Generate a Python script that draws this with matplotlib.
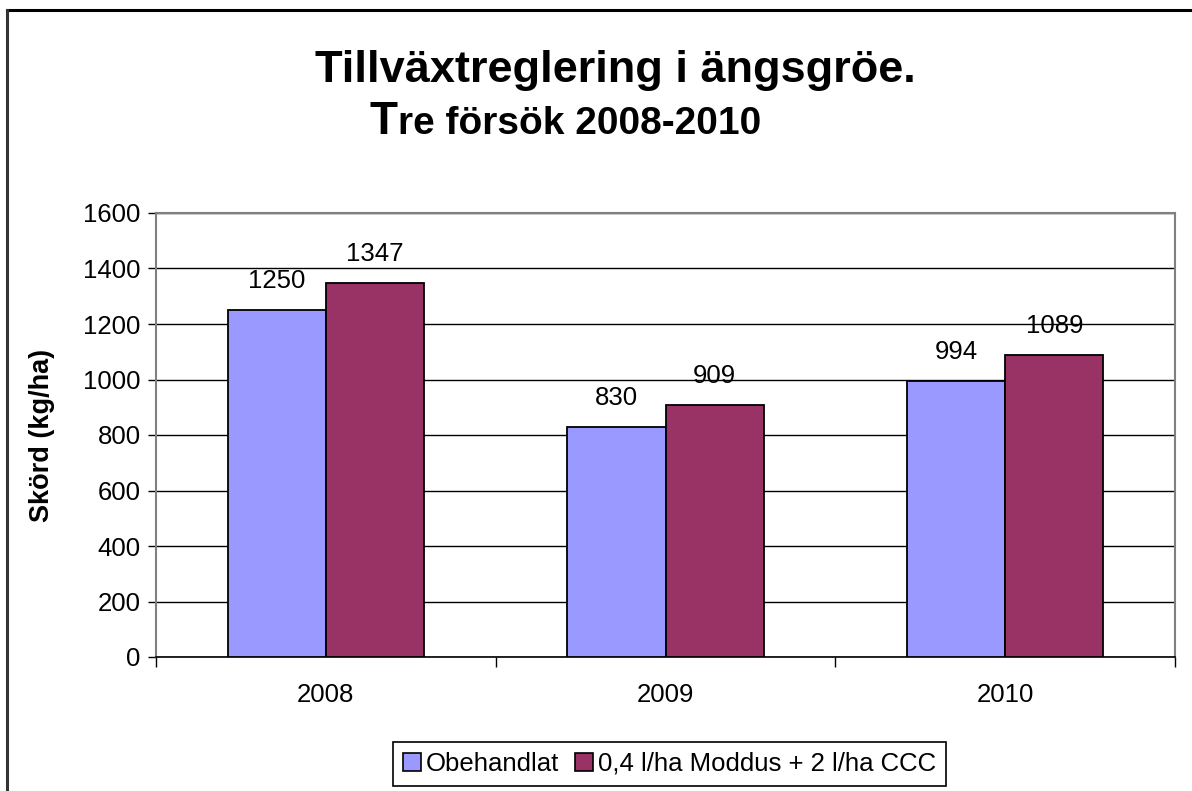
import matplotlib
matplotlib.use("Agg")
import matplotlib.pyplot as plt
import numpy as np
from matplotlib.lines import Line2D

plt.rcParams['font.family'] = ['Liberation Sans', 'DejaVu Sans']

years = ['2008', '2009', '2010']
series_names = ['Obehandlat', '0,4 l/ha Moddus + 2 l/ha CCC']
obehandlat = [1250, 830, 994]
moddus_ccc = [1347, 909, 1089]
colors = ['#9999FF', '#993366']

W, H = 1192, 791
fig = plt.figure(figsize=(W / 100, H / 100), dpi=100)
ax = fig.add_axes([156 / W, 1 - 657 / H, (1175 - 156) / W, (657 - 213) / H])

x = np.arange(len(years))
bw = 98 / 339
for vals, off, col, name in [(obehandlat, -bw / 2, colors[0], series_names[0]),
                             (moddus_ccc, bw / 2, colors[1], series_names[1])]:
    bars = ax.bar(x + off, vals, bw, color=col, edgecolor='black',
                  linewidth=1.3, label=name, zorder=3)
    for b, v in zip(bars, vals):
        ax.annotate(str(v), (b.get_x() + b.get_width() / 2, v),
                    xytext=(0, 21), textcoords='offset points',
                    ha='center', va='center', fontsize=18.5, zorder=4)

ax.set_xlim(-0.5, 2.5)
ax.set_ylim(0, 1600)
ax.set_yticks(np.arange(0, 1601, 200))
ax.tick_params(axis='y', labelsize=18.5, length=6, width=1, direction='out', pad=5)
ax.yaxis.grid(True, color='black', linewidth=1, zorder=0)

# category separators as major ticks, labels on minor ticks
ax.set_xticks([-0.5, 0.5, 1.5, 2.5])
ax.set_xticklabels([])
ax.set_xticks(x, minor=True)
ax.set_xticklabels(years, minor=True)
ax.tick_params(axis='x', which='major', length=7, width=1, direction='out')
ax.tick_params(axis='x', which='minor', length=0, labelsize=18.5, pad=19)

for s in ['top', 'right', 'left']:
    ax.spines[s].set_color('#808080')
    ax.spines[s].set_linewidth(1.5)
ax.spines['bottom'].set_color('black')
ax.spines['bottom'].set_linewidth(1.2)

ax.set_ylabel('Skörd (kg/ha)', fontsize=19.5, fontweight='bold')
ax.yaxis.set_label_coords(-0.099, 0.5)

# titles
fig.text(615 / W, 1 - 82 / H, 'Tillväxtreglering i ängsgröe.', ha='center',
         va='baseline', fontsize=32.5, fontweight='bold')
t1 = fig.text(370 / W, 1 - 134 / H, 'T', ha='left', va='baseline',
              fontsize=33, fontweight='bold')
fig.canvas.draw()
bb = t1.get_window_extent()
fig.text(bb.x1 / W, 1 - 134 / H, 're försök 2008-2010', ha='left',
         va='baseline', fontsize=28, fontweight='bold')

handles = [plt.Rectangle((0, 0), 1, 1, facecolor=c, edgecolor='black', linewidth=1.2)
           for c in colors]
leg = fig.legend(handles, series_names, loc='center',
                 bbox_to_anchor=(669.5 / W, 1 - 764 / H), ncol=2, fontsize=18.5,
                 frameon=True, fancybox=False, shadow=False, framealpha=1,
                 handlelength=0.7, handleheight=0.7, handletextpad=0.2,
                 columnspacing=0.6, borderpad=0.4, borderaxespad=0)
leg.get_frame().set_edgecolor('black')
leg.get_frame().set_linewidth(1.2)

# outer chart border (top and left visible)
fig.add_artist(Line2D([7 / W, 1.0], [1 - 10 / H, 1 - 10 / H], color='black',
                      linewidth=2.2, transform=fig.transFigure))
fig.add_artist(Line2D([7 / W, 7 / W], [0, 1 - 10 / H], color='#333333',
                      linewidth=2.2, transform=fig.transFigure))

fig.savefig('out.png', dpi=100)
